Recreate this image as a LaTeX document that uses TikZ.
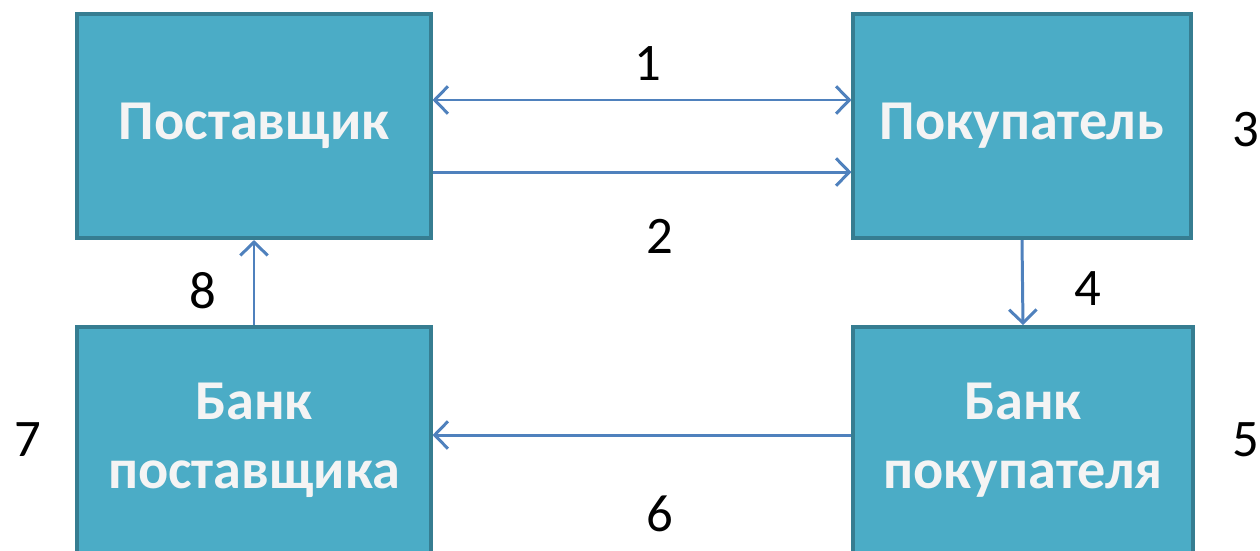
\documentclass[tikz,border=0pt]{standalone}
\usepackage{fontspec}
\setmainfont{Carlito}
\usetikzlibrary{arrows.meta}
\definecolor{boxfill}{HTML}{4BACC6}
\definecolor{boxedge}{HTML}{367D91}
\definecolor{boxtext}{HTML}{F4F4F4}
\definecolor{linkblue}{HTML}{4F81BD}
\begin{document}
\begin{tikzpicture}[x=0.01cm,y=-0.01cm,
  party/.style={draw=boxedge, line width=1.1pt, fill=boxfill, text=boxtext,
    font=\bfseries\fontsize{16}{19.5}\selectfont, align=center,
    inner sep=0pt, minimum height=2.24cm},
  tip/.tip={Straight Barb[length=3.8pt,width=7.8pt,line width=0.85pt]},
  link/.style={draw=linkblue, line width=0.85pt, -tip},
  num/.style={font=\fontsize{15}{18}\selectfont, text=black}]
\useasboundingbox (0,0) rectangle (1260,550);
\begin{scope}
\clip (0,0) rectangle (1260,550);
% the four parties
\node[party, minimum width=3.53cm] (sup) at (254,126) {Поставщик};
\node[party, minimum width=3.37cm] (buy) at (1022,126) {Покупатель};
\node[party, minimum width=3.53cm, minimum height=2.26cm] (supbank) at (254,440) {Банк\\поставщика};
\node[party, minimum width=3.39cm, minimum height=2.26cm] (buybank) at (1023,440) {Банк\\покупателя};
% flows between them
\draw[link, tip-tip] ([yshift=0.26cm]sup.east) -- ([yshift=0.26cm]buy.west);
\draw[link] ([yshift=-0.46cm]sup.east) -- ([yshift=-0.46cm]buy.west);
\draw[link] (buy.south) -- (buybank.north);
\draw[link] ([yshift=0.05cm]buybank.west) -- ([yshift=0.05cm]supbank.east);
\draw[link] (supbank.north) -- (sup.south);
% step numbers
\node[num] (n1) at (648,64) {1};
\node[num] (n2) at (660,236) {2};
\node[num] (n3) at (1246,130) {3};
\node[num] (n4) at (1088,289) {4};
\node[num] (n5) at (1246,440) {5};
\node[num] (n6) at (660,514) {6};
\node[num] (n7) at (28,440) {7};
\node[num] (n8) at (203,291) {8};
\end{scope}
\end{tikzpicture}
\end{document}
